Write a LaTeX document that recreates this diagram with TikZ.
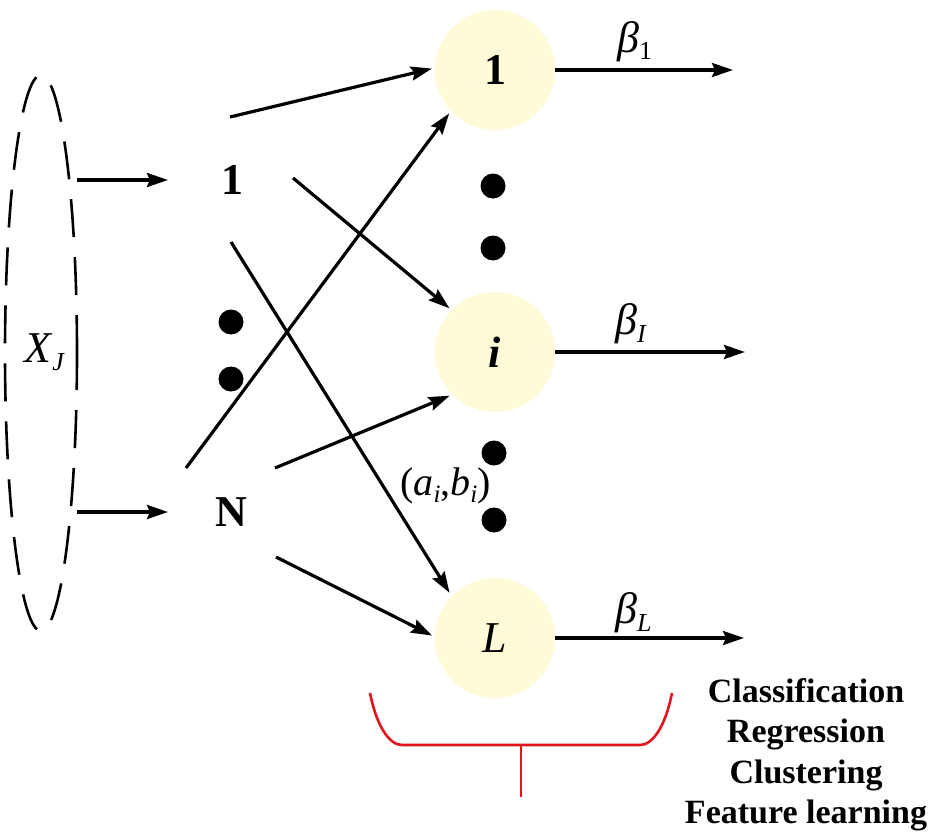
\documentclass[tikz,border=0pt]{standalone}
\usepackage{fontspec}
\setmainfont{Liberation Serif}
\usetikzlibrary{arrows.meta,shapes.geometric}
\definecolor{nodefill}{RGB}{255,251,216}
\definecolor{bracketred}{RGB}{226,20,30}
\begin{document}
\begin{tikzpicture}[x=1pt,y=-1pt,
  arr/.style={line width=3.2pt,-{Stealth[length=21pt,width=14pt,inset=3pt]}},
  hid/.style={circle,fill=nodefill,minimum size=120pt,inner sep=0pt,font=\fontsize{44}{44}\selectfont},
  inp/.style={font=\fontsize{44}{44}\selectfont\bfseries,inner sep=0pt},
  bigdot/.style={circle,fill=black,minimum size=25pt,inner sep=0pt},
  lab/.style={inner sep=0pt,font=\fontsize{44}{44}\selectfont}]
\fill[white] (0,0) rectangle (935,835);
\useasboundingbox (0,0) rectangle (935,835);

% input set
\node[ellipse,draw,line width=2.6pt,dash pattern=on 38pt off 20pt,
      minimum width=72pt,minimum height=556pt,inner sep=0pt] (inset) at (41,353) {};
\node[lab,anchor=base west] (xj) at (24,362) {\textit{X}\raisebox{-8pt}{\fontsize{26}{26}\selectfont\textit{J}}};

% input nodes
\node[inp] (in1) at (232,180) {1};
\node[inp] (inN) at (231,512) {N};
\node[bigdot] (d1) at (231,322) {};
\node[bigdot] (d2) at (231,379) {};

\coordinate (e1) at (77,180);
\coordinate (t1) at (168,180);
\coordinate (eN) at (77,512);
\coordinate (tN) at (168,512);
\draw[arr,line width=3.6pt] (e1) -- (t1);
\draw[arr,line width=3.6pt] (eN) -- (tN);

% hidden nodes
\node[hid] (h1) at (495,70) {\bfseries 1};
\node[hid] (hi) at (495,352) {\bfseries\itshape i};
\node[hid] (hL) at (495,638) {\itshape L};
\node[bigdot] (v1) at (493,186) {};
\node[bigdot] (v2) at (493,248) {};
\node[bigdot] (v3) at (494,453) {};
\node[bigdot] (v4) at (494,520) {};

% connections
\coordinate (s11) at (230,117);
\coordinate (s1i) at (293,178);
\coordinate (s1L) at (231,242);
\coordinate (sN1) at (186,468);
\coordinate (sNi) at (275,468);
\coordinate (sNL) at (276,557);
\draw[arr,shorten >=3pt] (s11) -- (h1.178);
\draw[arr,shorten >=3pt] (s1i) -- (hi.136);
\draw[arr,shorten >=4pt] (s1L) -- (hL.136);
\draw[arr,shorten >=3pt] (sN1) -- (h1.223);
\draw[arr,shorten >=3pt] (sNi) -- (hi.225);
\draw[arr,shorten >=3pt] (sNL) -- (hL.179);

\node[lab,anchor=base west,font=\fontsize{40}{40}\selectfont] (ab) at (400,495)
  {(\textit{a}\raisebox{-7pt}{\fontsize{25}{25}\selectfont\textit{i}},\textit{b}\raisebox{-7pt}{\fontsize{25}{25}\selectfont\textit{i}})};

% outputs
\coordinate (o1) at (733,70);
\coordinate (oi) at (745,352);
\coordinate (oL) at (744,638);
\draw[arr] (h1.east) -- (o1);
\draw[arr] (hi.east) -- (oi);
\draw[arr] (hL.east) -- (oL);
\node[lab,anchor=base west] (b1) at (617,52) {\textit{β}\raisebox{-8pt}{\fontsize{26}{26}\selectfont 1}};
\node[lab,anchor=base west] (bi) at (615,334) {\textit{β}\raisebox{-8pt}{\fontsize{26}{26}\selectfont\textit{I}}};
\node[lab,anchor=base west] (bL) at (615,623) {\textit{β}\raisebox{-8pt}{\fontsize{26}{26}\selectfont\textit{L}}};

% bracket
\draw[bracketred,line width=2.6pt] (370,693) .. controls (377,728) and (390,745) .. (402,745)
  -- (640,745) .. controls (652,745) and (665,728) .. (672,693);
\coordinate (bm) at (521,745);
\coordinate (bb) at (521,797);
\draw[bracketred,line width=2.6pt] (bm) -- (bb);

\node[anchor=north,align=center,inner sep=0pt,font=\fontsize{34}{40.5}\selectfont\bfseries] (tasks) at (806,678)
  {Classification\\Regression\\Clustering\\Feature learning};
\end{tikzpicture}
\end{document}
